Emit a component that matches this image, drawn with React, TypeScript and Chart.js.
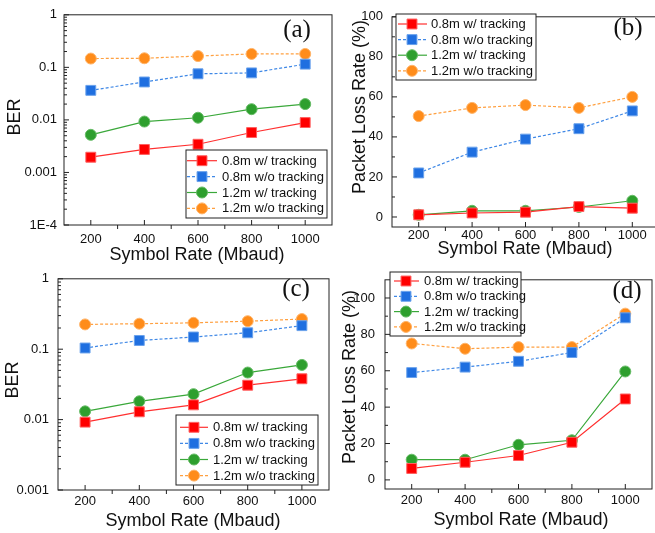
import React, { useEffect, useRef } from 'react';
import { Chart, registerables } from 'chart.js';

Chart.register(...registerables);

// ---------------- data ----------------
const symbolRates = [200, 400, 600, 800, 1000];
const xTickValues = [200, 400, 600, 800, 1000];
const seriesNames = ['0.8m w/ tracking', '0.8m w/o tracking', '1.2m w/ tracking', '1.2m w/o tracking'];

// (a) BER
const berA_08w = [0.00195, 0.00274, 0.00344, 0.00575, 0.0089];
const berA_08wo = [0.0365, 0.0527, 0.0753, 0.0785, 0.115];
const berA_12w = [0.0052, 0.0093, 0.011, 0.016, 0.02];
const berA_12wo = [0.147, 0.149, 0.164, 0.18, 0.18];

// (b) packet loss rate
const plrB_08w = [1.1, 2.0, 2.4, 5.2, 4.4];
const plrB_08wo = [22, 32.4, 38.9, 44.1, 53];
const plrB_12w = [1.1, 3.1, 3.1, 5.0, 8.1];
const plrB_12wo = [50.4, 54.5, 55.9, 54.5, 60];

// (c) BER
const berC_08w = [0.0092, 0.0129, 0.0162, 0.0308, 0.038];
const berC_08wo = [0.104, 0.133, 0.149, 0.171, 0.216];
const berC_12w = [0.0131, 0.0182, 0.023, 0.0466, 0.0598];
const berC_12wo = [0.225, 0.23, 0.237, 0.25, 0.268];

// (d) packet loss rate
const plrD_08w = [6.3, 9.7, 13.4, 20.7, 44.5];
const plrD_08wo = [59, 62, 65.2, 70, 89.1];
const plrD_12w = [11.1, 11.1, 19.3, 21.8, 59.6];
const plrD_12wo = [75, 72.1, 73, 73, 91.4];

const berTicksA = [1e-4, 1e-3, 1e-2, 0.1, 1];
const berTickLabelsA = ['1E-4', '0.001', '0.01', '0.1', '1'];
const berTicksC = [1e-3, 1e-2, 0.1, 1];
const berTickLabelsC = ['0.001', '0.01', '0.1', '1'];
const plrTicks = [0, 20, 40, 60, 80, 100];
const plrTickLabels = ['0', '20', '40', '60', '80', '100'];

// ---------------- styles ----------------
const FONT = '"Liberation Sans", Arial, sans-serif';
const SERIF = '"Liberation Serif", "Times New Roman", serif';
const TEXT = '#111';

const seriesStyles = [
  { line: '#ff3030', fill: '#ff0000', edge: '#ff6060', dash: [] as number[], shape: 'rect', r: 7 },
  { line: '#3f88e6', fill: '#1f6fe0', edge: '#6aa2ec', dash: [3, 2], shape: 'rect', r: 7 },
  { line: '#3aa83a', fill: '#2e9f2e', edge: '#66bb66', dash: [] as number[], shape: 'circle', r: 5.5 },
  { line: '#ffa040', fill: '#ff8c1a', edge: '#ffb46a', dash: [3, 2], shape: 'circle', r: 5.5 },
];

type Panel = {
  key: string;
  canvas: { x: number; y: number; w: number; h: number };
  area: { l: number; t: number; r: number; b: number };
  yType: 'logarithmic' | 'linear';
  yMin: number;
  yMax: number;
  yTicks: number[];
  yLabels: string[];
  series: number[][];
  yTitle: string;
  yTitlePos: { x: number; y: number };
  xTitleY: number;
  xTitleX: number;
  tag: string;
  tagPos: { x: number; y: number };
  xPad: number;
  yPad: number;
  legend: { l: number; t: number; w: number; h: number; row0: number; gap: number; lineL: number; lineR: number; mark: number; text: number };
};

const panels: Panel[] = [
  {
    key: 'a',
    canvas: { x: 0, y: 0, w: 340, h: 268 },
    area: { l: 64, t: 9, r: 332, b: 225 },
    yType: 'logarithmic', yMin: 1e-4, yMax: 1,
    yTicks: berTicksA, yLabels: berTickLabelsA,
    series: [berA_08w, berA_08wo, berA_12w, berA_12wo],
    yTitle: 'BER', yTitlePos: { x: 15, y: 117 },
    xTitleY: 255, xTitleX: 197,
    tag: '(a)', tagPos: { x: 297, y: 37 },
    xPad: 7, yPad: 7,
    legend: { l: 186, t: 150, w: 141, h: 68, row0: 10.7, gap: 15.9, lineL: 1, lineR: 31, mark: 16, text: 36 },
  },
  {
    key: 'b',
    canvas: { x: 330, y: 0, w: 340, h: 268 },
    area: { l: 392, t: 10, r: 659, b: 227 },
    yType: 'linear', yMin: -5, yMax: 100,
    yTicks: plrTicks, yLabels: plrTickLabels,
    series: [plrB_08w, plrB_08wo, plrB_12w, plrB_12wo],
    yTitle: 'Packet Loss Rate (%)', yTitlePos: { x: 360, y: 107 },
    xTitleY: 249, xTitleX: 525,
    tag: '(b)', tagPos: { x: 628, y: 35 },
    xPad: 1, yPad: 9,
    legend: { l: 396, t: 14, w: 140, h: 66, row0: 10, gap: 15.6, lineL: 2, lineR: 31, mark: 16, text: 35 },
  },
  {
    key: 'c',
    canvas: { x: 0, y: 262, w: 340, h: 271 },
    area: { l: 58, t: 271, r: 329, b: 490 },
    yType: 'logarithmic', yMin: 1e-3, yMax: 1,
    yTicks: berTicksC, yLabels: berTickLabelsC,
    series: [berC_08w, berC_08wo, berC_12w, berC_12wo],
    yTitle: 'BER', yTitlePos: { x: 13, y: 380 },
    xTitleY: 521, xTitleX: 193,
    tag: '(c)', tagPos: { x: 296, y: 296 },
    xPad: 4, yPad: 9,
    legend: { l: 176, t: 415, w: 142, h: 70, row0: 12.3, gap: 16.1, lineL: 4, lineR: 32, mark: 18, text: 37 },
  },
  {
    key: 'd',
    canvas: { x: 330, y: 262, w: 330, h: 271 },
    area: { l: 385, t: 270, r: 655.5, b: 489 },
    yType: 'linear', yMin: -5, yMax: 110,
    yTicks: plrTicks, yLabels: plrTickLabels,
    series: [plrD_08w, plrD_08wo, plrD_12w, plrD_12wo],
    yTitle: 'Packet Loss Rate (%)', yTitlePos: { x: 350, y: 377 },
    xTitleY: 520, xTitleX: 521,
    tag: '(d)', tagPos: { x: 627, y: 298 },
    xPad: 4, yPad: 10,
    legend: { l: 390, t: 272, w: 131, h: 64, row0: 9, gap: 15.3, lineL: 4, lineR: 29, mark: 16, text: 34 },
  },
];

function drawMarker(ctx: CanvasRenderingContext2D, st: any, x: number, y: number) {
  ctx.save();
  ctx.setLineDash([]);
  ctx.fillStyle = st.fill;
  ctx.strokeStyle = st.edge;
  ctx.lineWidth = 1;
  ctx.beginPath();
  if (st.shape === 'rect') {
    const s = st.r * Math.SQRT1_2;
    ctx.rect(x - s, y - s, 2 * s, 2 * s);
  } else {
    ctx.arc(x, y, st.r, 0, Math.PI * 2);
  }
  ctx.fill();
  ctx.stroke();
  ctx.restore();
}

function makeDecor(p: Panel) {
  const ox = p.canvas.x;
  const oy = p.canvas.y;
  return {
    id: 'decor_' + p.key,
    beforeDatasetsDraw(chart: any) {
      const ctx: CanvasRenderingContext2D = chart.ctx;
      const { left, right, top, bottom } = chart.chartArea;
      const xs = chart.scales.x;
      const ys = chart.scales.y;
      ctx.save();
      ctx.strokeStyle = '#222';
      ctx.lineWidth = 1;
      ctx.strokeRect(left, top, right - left, bottom - top);
      ctx.beginPath();
      // x major ticks (inward) and minor (outward)
      xTickValues.forEach((v) => {
        const px = xs.getPixelForValue(v);
        ctx.moveTo(px, bottom);
        ctx.lineTo(px, bottom - 5);
      });
      for (let i = 0; i < xTickValues.length - 1; i++) {
        const px = xs.getPixelForValue((xTickValues[i] + xTickValues[i + 1]) / 2);
        ctx.moveTo(px, bottom);
        ctx.lineTo(px, bottom + 4);
      }
      // y ticks (inward)
      p.yTicks.forEach((v) => {
        const py = ys.getPixelForValue(v);
        ctx.moveTo(left, py);
        ctx.lineTo(left + 5, py);
      });
      if (p.yType === 'logarithmic') {
        for (let i = 0; i < p.yTicks.length - 1; i++) {
          for (let k = 2; k <= 9; k++) {
            const py = ys.getPixelForValue(p.yTicks[i] * k);
            ctx.moveTo(left, py);
            ctx.lineTo(left + 3, py);
          }
        }
      } else {
        const step = p.yTicks[1] - p.yTicks[0];
        p.yTicks.forEach((v) => {
          const mv = v + step / 2;
          if (mv < p.yMax) {
            const py = ys.getPixelForValue(mv);
            ctx.moveTo(left, py);
            ctx.lineTo(left + 3, py);
          }
        });
      }
      ctx.stroke();
      ctx.restore();
    },
    afterDraw(chart: any) {
      const ctx: CanvasRenderingContext2D = chart.ctx;
      ctx.save();
      // axis titles
      ctx.fillStyle = TEXT;
      ctx.font = '18px ' + FONT;
      ctx.textAlign = 'center';
      ctx.textBaseline = 'middle';
      ctx.fillText('Symbol Rate (Mbaud)', p.xTitleX - ox, p.xTitleY - oy);
      ctx.save();
      ctx.translate(p.yTitlePos.x - ox, p.yTitlePos.y - oy);
      ctx.rotate(-Math.PI / 2);
      ctx.fillText(p.yTitle, 0, 0);
      ctx.restore();
      // panel tag
      ctx.font = '25px ' + SERIF;
      ctx.textBaseline = 'alphabetic';
      ctx.fillText(p.tag, p.tagPos.x - ox, p.tagPos.y - oy);
      // legend
      const L = p.legend;
      const lx = L.l - ox;
      const ly = L.t - oy;
      ctx.fillStyle = '#fff';
      ctx.fillRect(lx, ly, L.w, L.h);
      ctx.strokeStyle = '#222';
      ctx.lineWidth = 1;
      ctx.strokeRect(lx, ly, L.w, L.h);
      ctx.font = '13px ' + FONT;
      ctx.textAlign = 'left';
      ctx.textBaseline = 'middle';
      seriesNames.forEach((name, i) => {
        const st = seriesStyles[i];
        const y = ly + L.row0 + i * L.gap;
        ctx.save();
        ctx.strokeStyle = st.line;
        ctx.lineWidth = 1.2;
        ctx.setLineDash(st.dash);
        ctx.beginPath();
        ctx.moveTo(lx + L.lineL, y);
        ctx.lineTo(lx + L.lineR, y);
        ctx.stroke();
        ctx.restore();
        drawMarker(ctx, st, lx + L.mark, y);
        ctx.fillStyle = TEXT;
        ctx.fillText(name, lx + L.text, y + 0.5);
      });
      ctx.restore();
    },
  };
}

function buildChart(canvas: HTMLCanvasElement, p: Panel) {
  const { x: cx, y: cy, w: cw, h: ch } = p.canvas;
  const datasets = p.series.map((vals, i) => {
    const st = seriesStyles[i];
    return {
      label: seriesNames[i],
      data: symbolRates.map((x, j) => ({ x, y: vals[j] })),
      borderColor: st.line,
      borderWidth: 1.2,
      borderDash: st.dash,
      backgroundColor: st.fill,
      pointStyle: st.shape,
      pointRadius: st.r,
      pointBackgroundColor: st.fill,
      pointBorderColor: st.edge,
      pointBorderWidth: 1,
      tension: 0,
      fill: false,
    };
  });
  return new Chart(canvas, {
    type: 'line',
    data: { datasets },
    plugins: [makeDecor(p)],
    options: {
      animation: false,
      responsive: false,
      maintainAspectRatio: false,
      devicePixelRatio: 1,
      layout: {
        padding: { top: p.area.t - cy, right: cx + cw - p.area.r, left: 0, bottom: 0 },
      },
      plugins: { legend: { display: false }, tooltip: { enabled: false } },
      scales: {
        x: {
          type: 'linear',
          position: 'bottom',
          min: 100,
          max: 1100,
          afterBuildTicks: (s: any) => {
            s.ticks = xTickValues.map((v) => ({ value: v }));
          },
          afterFit: (s: any) => {
            s.height = cy + ch - p.area.b;
          },
          grid: { display: false, drawTicks: false },
          border: { display: false },
          ticks: {
            padding: p.xPad,
            autoSkip: false,
            maxRotation: 0,
            color: TEXT,
            font: { family: FONT, size: 13 },
            callback: (v: any) => String(v),
          },
        },
        y: {
          type: p.yType,
          position: 'left',
          min: p.yMin,
          max: p.yMax,
          afterBuildTicks: (s: any) => {
            s.ticks = p.yTicks.map((v) => ({ value: v }));
          },
          afterFit: (s: any) => {
            s.width = p.area.l - cx;
          },
          grid: { display: false, drawTicks: false },
          border: { display: false },
          ticks: {
            padding: p.yPad,
            autoSkip: false,
            color: TEXT,
            font: { family: FONT, size: 13 },
            callback: (v: any) => {
              const i = p.yTicks.indexOf(v);
              return i >= 0 ? p.yLabels[i] : '';
            },
          },
        },
      },
    } as any,
  });
}

export default function App() {
  const refs = useRef<(HTMLCanvasElement | null)[]>([]);
  useEffect(() => {
    const charts = panels.map((p, i) => buildChart(refs.current[i] as HTMLCanvasElement, p));
    return () => charts.forEach((c) => c.destroy());
  }, []);
  return (
    <div
      style={{
        position: 'absolute',
        left: 0,
        top: 0,
        width: 655,
        height: 533,
        overflow: 'hidden',
        background: '#fff',
      }}
    >
      {panels.map((p, i) => (
        <canvas
          key={p.key}
          ref={(el) => {
            refs.current[i] = el;
          }}
          width={p.canvas.w}
          height={p.canvas.h}
          style={{
            position: 'absolute',
            left: p.canvas.x,
            top: p.canvas.y,
            width: p.canvas.w,
            height: p.canvas.h,
          }}
        />
      ))}
    </div>
  );
}
